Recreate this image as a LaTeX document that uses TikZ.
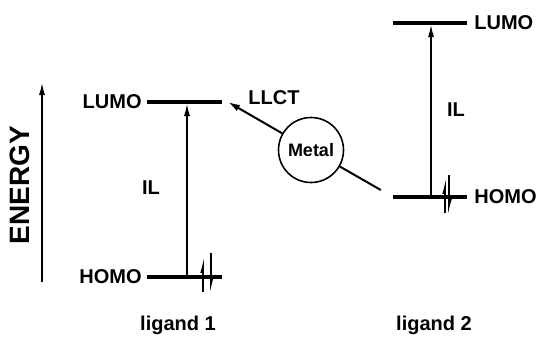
\documentclass[tikz,border=0pt]{standalone}
\usepackage{fontspec}
\setmainfont{Liberation Sans}
\usetikzlibrary{arrows.meta,positioning}

\begin{document}
\begin{tikzpicture}[
  x=0.5pt,y=-0.5pt,
  >={Latex[length=6pt,width=3pt]},
  level/.style={line width=2pt},
  trans/.style={->,line width=0.6pt,shorten >=1pt},
  spin/.style={-{Latex[left,length=6pt,width=2.8pt]},line width=0.9pt},
  lbl/.style={font=\bfseries\fontsize{10}{12}\selectfont,inner sep=1pt},
  metalnode/.style={circle,draw,line width=0.8pt,minimum size=32.5pt,inner sep=0pt,
    font=\bfseries\fontsize{9}{10}\selectfont}
]
  \useasboundingbox (0,0) rectangle (539,337);

  % energy axis
  \coordinate (ebot) at (42,282);
  \coordinate (etop) at (42,83);
  \draw[->,line width=0.6pt] (ebot) -- (etop);
  \node[font=\bfseries\fontsize{14}{16}\selectfont,rotate=90] (energy) at (20,185) {ENERGY};

  % ligand 1
  \coordinate (l1lumoL) at (147,102);
  \coordinate (l1lumoR) at (222,102);
  \coordinate (l1homoL) at (147,277);
  \coordinate (l1homoR) at (222,277);
  \draw[level] (l1lumoL) -- (l1lumoR);
  \draw[level] (l1homoL) -- (l1homoR);
  \node[lbl,left=1.5pt of l1lumoL] (lumo1) {LUMO};
  \node[lbl,left=1.5pt of l1homoL] (homo1) {HOMO};
  \coordinate (il1a) at (187,277);
  \coordinate (il1b) at (187,102);
  \draw[trans] (il1a) -- (il1b);
  \node[lbl] (il1) at (151,188) {IL};
  \draw[spin] (203,292) -- (203,255);
  \draw[spin] (211,253) -- (211,295);
  \node[lbl] (lig1) at (178,325) {ligand 1};

  % ligand 2
  \coordinate (l2lumoL) at (393,23);
  \coordinate (l2lumoR) at (467,23);
  \coordinate (l2homoL) at (393,197);
  \coordinate (l2homoR) at (467,197);
  \draw[level] (l2lumoL) -- (l2lumoR);
  \draw[level] (l2homoL) -- (l2homoR);
  \node[lbl,right=2.5pt of l2lumoR] (lumo2) {LUMO};
  \node[lbl,right=2.5pt of l2homoR] (homo2) {HOMO};
  \coordinate (il2a) at (431,197);
  \coordinate (il2b) at (431,23);
  \draw[trans] (il2a) -- (il2b);
  \node[lbl] (il2) at (456,110) {IL};
  \draw[spin] (445,213) -- (445,176);
  \draw[spin] (449,175) -- (449,217);
  \node[lbl] (lig2) at (434,325) {ligand 2};

  % metal
  \node[metalnode] (metal) at (311,150) {Metal};
  \draw[->,line width=1pt,>={Latex[length=6pt,width=3.5pt]}] (metal) -- ([xshift=3pt]l1lumoR);
  \node[lbl] (llct) at (274,98) {LLCT};
  \draw[line width=1pt,shorten >=7pt] (metal) -- (l2homoL);
\end{tikzpicture}
\end{document}
